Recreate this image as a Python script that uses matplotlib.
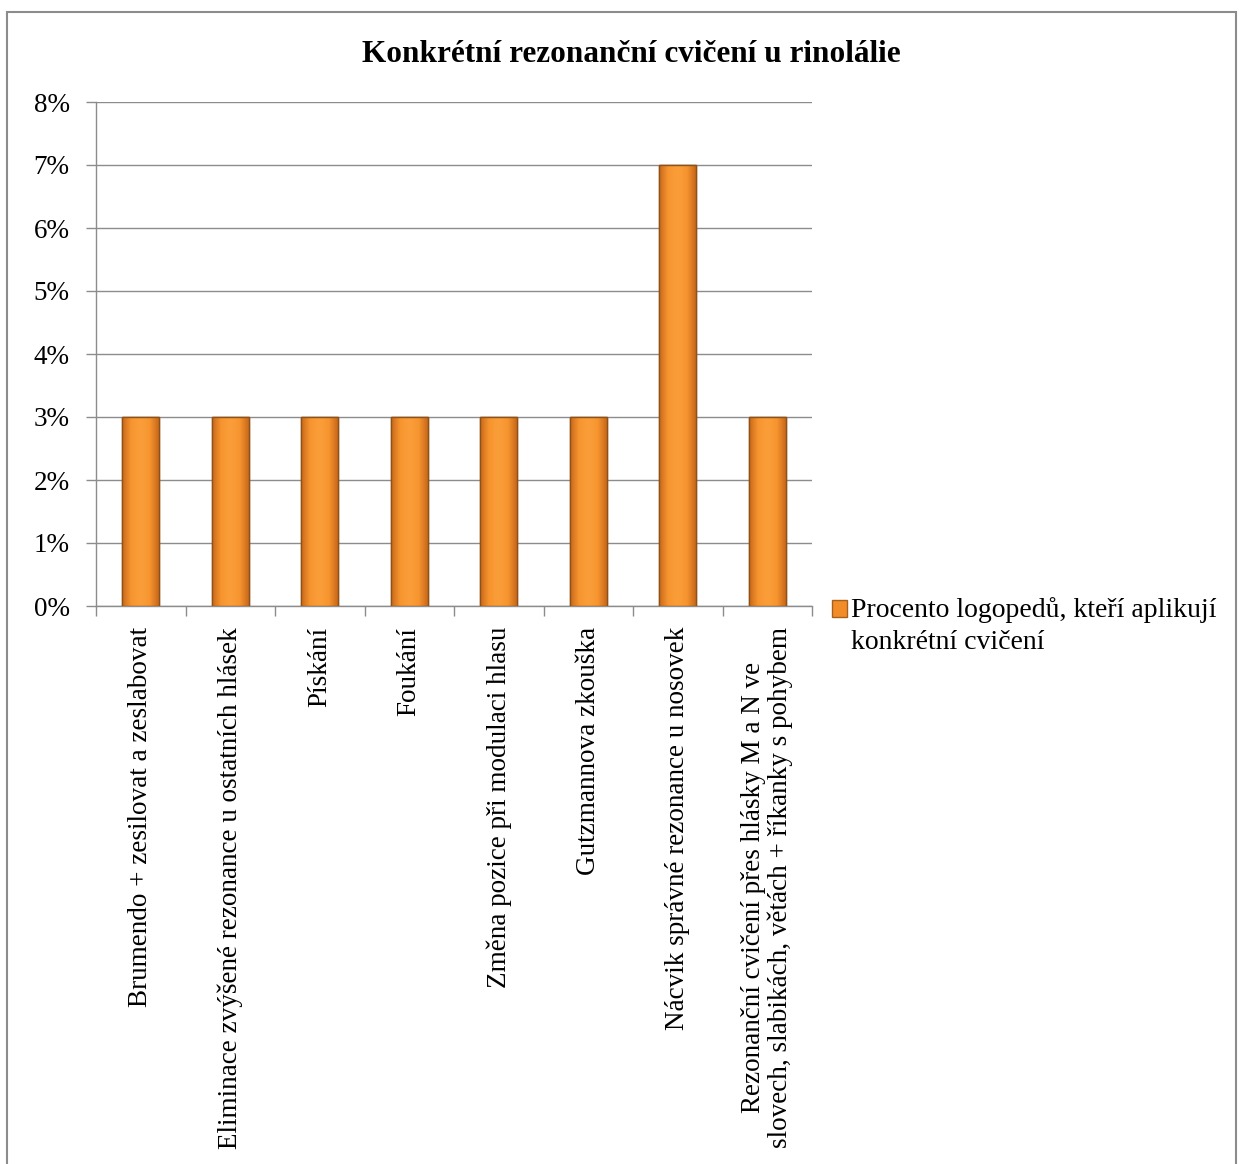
import matplotlib
matplotlib.use("Agg")
import matplotlib.pyplot as plt
import numpy as np
from matplotlib.patches import Rectangle
from matplotlib.ticker import FuncFormatter, MultipleLocator
from matplotlib.colors import LinearSegmentedColormap

plt.rcParams['font.family'] = ['Liberation Serif', 'DejaVu Serif']

categories = [
    "Brumendo + zesilovat a zeslabovat",
    "Eliminace zvýšené rezonance u ostatních hlásek",
    "Pískání",
    "Foukání",
    "Změna pozice při modulaci hlasu",
    "Gutzmannova zkouška",
    "Nácvik správné rezonance u nosovek",
    "Rezonanční cvičení přes hlásky M a N ve\nslovech, slabikách, větách + říkanky s pohybem",
]
values = [3, 3, 3, 3, 3, 3, 7, 3]
series_name = "Procento logopedů, kteří aplikují\nkonkrétní cvičení"
title = "Konkrétní rezonanční cvičení u rinolálie"

fig = plt.figure(figsize=(12.39, 11.64), dpi=100)
ax = fig.add_axes([96/1239, 1-606/1164, (812-96)/1239, (606-102)/1164])

x = np.arange(len(categories))
bars = ax.bar(x, values, width=0.41, color='#F28C28', edgecolor='#A65F1C',
              linewidth=1.0, zorder=3, label=series_name)

# horizontal gradient overlay for bevelled look
grad = np.linspace(0, 1, 64)
prof = 1 - np.abs(grad - 0.5) * 2
cmap = LinearSegmentedColormap.from_list('og', ['#C9691A', '#F7952F', '#FA9E3A'])
img = np.tile(prof, (2, 1))
for b in bars:
    x0, y0 = b.get_x(), b.get_y()
    w, h = b.get_width(), b.get_height()
    im = ax.imshow(img, extent=[x0, x0 + w, y0, y0 + h], cmap=cmap,
                   aspect='auto', zorder=3.5, interpolation='bicubic')
    im.set_clip_path(b)
    ax.add_patch(Rectangle((x0, y0), w, h, fill=False, edgecolor='#8E5218',
                           linewidth=1.0, zorder=4))

ax.set_xlim(-0.5, len(categories) - 0.5)
ax.set_ylim(0, 8)
ax.yaxis.set_major_locator(MultipleLocator(1))
ax.yaxis.set_major_formatter(FuncFormatter(lambda v, p: f"{int(v)}%"))
ax.grid(axis='y', color='#8C8C8C', linewidth=1.0, zorder=0)
ax.set_axisbelow(True)

for s in ['top', 'right']:
    ax.spines[s].set_visible(False)
for s in ['left', 'bottom']:
    ax.spines[s].set_color('#8C8C8C')
    ax.spines[s].set_linewidth(1.0)

ax.set_xticks(x)
ax.set_xticklabels(categories, rotation=90, fontsize=19.5, multialignment='center',
                   linespacing=1.1)
ax.tick_params(axis='x', length=0, pad=15)
ax.set_xticks(np.arange(len(categories) + 1) - 0.5, minor=True)
ax.tick_params(axis='x', which='minor', length=7, color='#8C8C8C', width=1.0)
ax.tick_params(axis='y', labelsize=19.5, length=7, color='#8C8C8C', width=1.0, pad=12)

fig.text(631/1239, 1 - 55/1164, title, ha='center', va='center', fontsize=22.5,
         fontweight='bold')

leg = fig.legend(handles=[bars], labels=[series_name], loc='upper left',
                 bbox_to_anchor=(832/1239, 1 - 597/1164), frameon=False,
                 fontsize=20, handlelength=0.55, handleheight=0.55,
                 handletextpad=0.15, borderaxespad=0, borderpad=0)
for t in leg.get_texts():
    t.set_linespacing(1.35)
hnd = leg.legend_handles[0]
hnd.set_y(hnd.get_y() + 12)

fig.patches.append(Rectangle((7/1239, -0.01), (1236-7)/1239, 1.01 - 12/1164,
                             transform=fig.transFigure, fill=False,
                             edgecolor='#8C8C8C', linewidth=1.5))

fig.savefig('out.png', dpi=100)
